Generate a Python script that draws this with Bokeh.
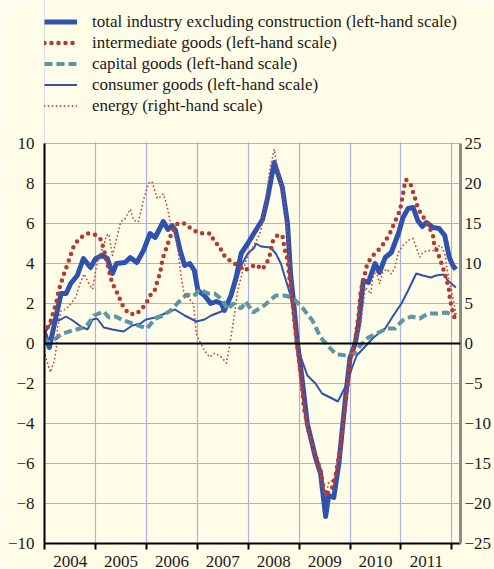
from bokeh.plotting import figure
from bokeh.models import (Range1d, LinearAxis, FixedTicker, CustomJSTickFormatter, Span,
                          Legend, LegendItem, BoxAnnotation)
from bokeh.embed import file_html
from bokeh.resources import INLINE

# ---------------- data (decimal years, percentage changes) ----------------
total_x = [2004.00, 2004.09, 2004.32, 2004.42, 2004.51, 2004.64, 2004.76, 2004.90, 2005.00, 2005.13,
           2005.23, 2005.33, 2005.41, 2005.58, 2005.68, 2005.81, 2005.94, 2006.07, 2006.17, 2006.33,
           2006.42, 2006.50, 2006.57, 2006.66, 2006.75, 2006.85, 2006.94, 2007.01, 2007.14, 2007.26,
           2007.37, 2007.47, 2007.53, 2007.66, 2007.76, 2007.86, 2007.99, 2008.12, 2008.28, 2008.38,
           2008.51, 2008.67, 2008.77, 2008.83, 2008.90, 2008.96, 2009.03, 2009.16, 2009.32, 2009.42,
           2009.52, 2009.58, 2009.68, 2009.78, 2009.91, 2010.00, 2010.10, 2010.17, 2010.26, 2010.36,
           2010.49, 2010.58, 2010.69, 2010.81, 2010.95, 2011.04, 2011.14, 2011.24, 2011.33, 2011.42,
           2011.50, 2011.63, 2011.75, 2011.86, 2011.95, 2012.02, 2012.08]
total_y = [0.5, -0.2, 2.5, 2.5, 3.0, 3.4, 4.25, 3.8, 4.25, 4.4,
           4.25, 3.5, 4.0, 4.05, 4.3, 4.05, 4.65, 5.5, 5.3, 6.1,
           5.7, 5.9, 5.65, 4.65, 3.9, 4.0, 3.65, 2.65, 2.4, 2.0,
           2.1, 2.0, 1.65, 2.4, 3.3, 4.5, 5.0, 5.55, 6.2, 7.3,
           9.05, 7.8, 6.0, 3.5, 1.8, 0.15, -1.2, -4.0, -5.7, -6.5,
           -8.65, -7.6, -7.7, -6.0, -2.7, -0.7, 0.0, 1.0, 3.15, 3.05,
           4.0, 3.55, 4.3, 4.55, 5.5, 6.3, 6.75, 6.8, 6.15, 5.85,
           6.05, 5.8, 5.75, 5.4, 4.3, 3.9, 3.7]

inter_x = [2004.00, 2004.12, 2004.22, 2004.28, 2004.38, 2004.48, 2004.58, 2004.71, 2004.84, 2004.98,
           2005.10, 2005.15, 2005.19, 2005.26, 2005.29, 2005.35, 2005.42, 2005.54, 2005.65, 2005.78,
           2005.88, 2005.99, 2006.07, 2006.16, 2006.20, 2006.25, 2006.29, 2006.31, 2006.36, 2006.42,
           2006.46, 2006.53, 2006.61, 2006.75, 2006.87, 2007.00, 2007.13, 2007.26, 2007.33, 2007.44,
           2007.49, 2007.61, 2007.72, 2007.83, 2007.92, 2008.04, 2008.15, 2008.27, 2008.36, 2008.42,
           2008.49, 2008.57, 2008.67, 2008.72, 2008.77, 2008.80, 2008.83, 2008.88, 2008.93, 2009.00,
           2009.05, 2009.09, 2009.18, 2009.29, 2009.42, 2009.48, 2009.53, 2009.65, 2009.72, 2009.81,
           2009.87, 2009.94, 2010.00, 2010.10, 2010.17, 2010.21, 2010.26, 2010.33, 2010.41, 2010.51,
           2010.62, 2010.71, 2010.78, 2010.85, 2010.91, 2010.98, 2011.01, 2011.04, 2011.06, 2011.10,
           2011.19, 2011.24, 2011.29, 2011.33, 2011.40, 2011.49, 2011.56, 2011.63, 2011.65, 2011.72,
           2011.77, 2011.81, 2011.86, 2011.90, 2011.94, 2011.96, 2011.98, 2012.02, 2012.07]
inter_y = [0.5, 1.15, 2.0, 2.7, 3.5, 4.2, 4.95, 5.3, 5.5, 5.45,
           5.2, 4.8, 4.4, 3.7, 3.3, 2.9, 2.55, 1.85, 1.5, 1.45,
           1.65, 2.0, 2.4, 2.65, 3.0, 3.4, 3.8, 4.2, 4.55, 5.0,
           5.3, 5.7, 6.0, 6.0, 5.75, 5.55, 5.5, 5.5, 5.1, 4.85,
           4.5, 4.2, 4.0, 3.85, 3.65, 3.8, 3.95, 3.7, 4.0, 4.4,
           5.2, 5.4, 5.4, 4.65, 4.2, 3.5, 2.8, 1.8, 0.5, -0.85,
           -2.0, -3.2, -4.35, -5.35, -6.35, -7.2, -7.6, -7.2, -6.5, -5.2,
           -3.85, -2.35, -0.85, 0.15, 1.5, 2.65, 3.15, 3.9, 4.3, 4.55,
           4.85, 5.2, 5.5, 5.9, 6.25, 6.65, 7.05, 7.45, 7.8, 8.2,
           7.95, 7.55, 7.15, 6.8, 6.45, 6.15, 5.8, 5.4, 5.0, 4.55,
           4.2, 3.9, 3.5, 3.15, 2.75, 2.3, 2.0, 1.55, 1.15]

capital_x = [2004.00, 2004.06, 2004.19, 2004.35, 2004.55, 2004.77, 2004.84, 2004.97, 2005.06, 2005.16,
             2005.26, 2005.39, 2005.55, 2005.72, 2005.84, 2006.01, 2006.17, 2006.33, 2006.50, 2006.62,
             2006.79, 2006.92, 2007.05, 2007.21, 2007.34, 2007.48, 2007.60, 2007.70, 2007.86, 2007.95,
             2008.09, 2008.31, 2008.54, 2008.70, 2008.87, 2009.06, 2009.26, 2009.42, 2009.65, 2009.74,
             2009.94, 2010.09, 2010.20, 2010.36, 2010.56, 2010.72, 2010.88, 2011.03, 2011.20, 2011.37,
             2011.53, 2011.72, 2011.89, 2012.08]
capital_y = [0.25, 0.05, 0.2, 0.5, 0.65, 0.8, 0.95, 1.4, 1.5, 1.6,
             1.3, 1.35, 1.15, 1.0, 0.9, 0.75, 1.25, 1.4, 1.7, 2.05,
             2.45, 2.35, 2.7, 2.5, 2.5, 2.2, 1.7, 2.0, 1.75, 2.1,
             1.55, 1.9, 2.4, 2.4, 2.3, 1.8, 1.15, 0.3, -0.35, -0.55,
             -0.6, -0.5, -0.1, 0.3, 0.55, 0.75, 0.75, 1.15, 1.35, 1.25,
             1.5, 1.5, 1.55, 1.4]

consumer_x = [2004.00, 2004.09, 2004.19, 2004.28, 2004.42, 2004.55, 2004.71, 2004.84, 2004.94, 2005.03,
              2005.16, 2005.33, 2005.55, 2005.72, 2005.88, 2005.99, 2006.17, 2006.36, 2006.56, 2006.75,
              2006.98, 2007.14, 2007.27, 2007.47, 2007.60, 2007.73, 2007.86, 2007.99, 2008.12, 2008.15,
              2008.25, 2008.44, 2008.54, 2008.64, 2008.74, 2008.83, 2008.93, 2008.98, 2009.16, 2009.32,
              2009.45, 2009.61, 2009.76, 2009.94, 2010.04, 2010.13, 2010.26, 2010.46, 2010.69, 2010.85,
              2011.01, 2011.14, 2011.30, 2011.43, 2011.59, 2011.69, 2011.84, 2011.92, 2012.08]
consumer_y = [0.5, 0.9, 1.25, 1.15, 1.35, 1.15, 0.85, 0.7, 1.2, 1.25,
              0.8, 0.7, 0.6, 0.9, 1.0, 1.2, 1.3, 1.5, 1.7, 1.4,
              1.1, 1.2, 1.4, 1.6, 1.9, 2.8, 3.9, 4.5, 4.8, 5.0,
              4.85, 4.8, 4.5, 4.0, 3.15, 2.4, 0.8, -0.3, -1.6, -2.0,
              -2.5, -2.7, -2.9, -2.0, -1.2, -0.6, -0.25, 0.3, 0.75, 1.4,
              2.0, 2.65, 3.5, 3.4, 3.3, 3.4, 3.45, 3.15, 2.8]

energy_x = [2004.01, 2004.11, 2004.19, 2004.24, 2004.25, 2004.32, 2004.42, 2004.51, 2004.61, 2004.69,
            2004.77, 2004.87, 2004.94, 2005.00, 2005.06, 2005.13, 2005.18, 2005.21, 2005.26, 2005.33,
            2005.42, 2005.49, 2005.58, 2005.68, 2005.75, 2005.84, 2005.94, 2006.01, 2006.06, 2006.11,
            2006.20, 2006.23, 2006.33, 2006.40, 2006.46, 2006.56, 2006.62, 2006.68, 2006.74, 2006.82,
            2006.92, 2006.95, 2006.98, 2007.05, 2007.14, 2007.24, 2007.34, 2007.47, 2007.57, 2007.65,
            2007.73, 2007.79, 2007.89, 2007.99, 2008.09, 2008.25, 2008.35, 2008.42, 2008.51, 2008.57,
            2008.67, 2008.74, 2008.79, 2008.83, 2008.90, 2008.93, 2009.00, 2009.09, 2009.29, 2009.42,
            2009.52, 2009.58, 2009.68, 2009.72, 2009.81, 2009.87, 2009.94, 2010.00, 2010.07, 2010.20,
            2010.30, 2010.36, 2010.41, 2010.44, 2010.51, 2010.58, 2010.64, 2010.72, 2010.81, 2010.88,
            2010.95, 2011.04, 2011.14, 2011.24, 2011.30, 2011.37, 2011.43, 2011.53, 2011.63, 2011.69,
            2011.79, 2011.86, 2011.90, 2011.95, 2012.02, 2012.08]
energy_y = [-1.5, -3.6, -2.1, 0.0, 2.0, 4.1, 4.3, 4.95, 5.8, 7.45,
            8.7, 7.45, 6.8, 9.1, 10.8, 11.8, 12.65, 13.5, 13.7, 11.0,
            13.3, 15.2, 15.6, 16.8, 15.4, 15.2, 17.9, 19.5, 20.2, 20.2,
            18.3, 18.1, 18.7, 17.25, 15.4, 14.1, 11.6, 8.3, 6.2, 5.8,
            4.95, 3.3, 1.2, 0.2, -0.9, -1.7, -1.2, -1.7, -2.45, 0.4,
            3.7, 6.6, 9.1, 11.0, 12.0, 14.1, 18.3, 21.6, 24.3, 22.0,
            19.5, 16.2, 12.0, 7.9, 3.7, 0.4, -3.8, -8.0, -13.6, -16.3,
            -19.2, -17.3, -17.1, -15.9, -13.0, -9.6, -5.9, -2.1, -0.25, 2.0,
            7.0, 6.6, 6.2, 8.1, 9.1, 7.45, 8.9, 9.3, 8.7, 9.5,
            11.4, 12.25, 12.9, 13.1, 12.0, 10.8, 11.4, 11.6, 11.6, 12.1,
            12.25, 11.2, 9.5, 7.9, 5.8, 3.7]

years = [2004, 2005, 2006, 2007, 2008, 2009, 2010, 2011, 2012]
left_ticks = [-10, -8, -6, -4, -2, 0, 2, 4, 6, 8, 10]
right_ticks = [-25, -20, -15, -10, -5, 0, 5, 10, 15, 20, 25]

labels = ["total industry excluding construction (left-hand scale)",
          "intermediate goods (left-hand scale)",
          "capital goods (left-hand scale)",
          "consumer goods (left-hand scale)",
          "energy (right-hand scale)"]

# ---------------- styles / layout ----------------
BG = "#FFFDE8"
GRID = "#A9B1EA"
BLUE = "#2F51AF"
RED = "#B33A2F"
RED2 = "#C0463A"
TEAL = "#5E95A3"
FONT = "Liberation Serif"

styles = [
    dict(line_color=BLUE, line_width=5, line_join="round"),
    dict(line_color=RED, line_width=4.5, line_dash="0 7", line_cap="round"),
    dict(line_color=TEAL, line_width=4, line_dash="8 4"),
    dict(line_color=BLUE, line_width=2),
    dict(line_color=RED2, line_width=1.8, line_dash="0 4", line_cap="round"),
]

Y_LO, Y_HI = -10, 10          # left scale shown
Y_TOP = 17.15                 # extra headroom above the plot area holds the legend
R_FACTOR = 2.5                # right scale = left scale * 2.5

p = figure(width=494, height=569, x_range=Range1d(2003.995, 2012.17), y_range=Range1d(Y_LO, Y_TOP),
           output_backend="svg", toolbar_location=None,
           min_border_left=44, min_border_right=0, min_border_top=0, min_border_bottom=0)
p.extra_y_ranges = {"right": Range1d(Y_LO * R_FACTOR, Y_TOP * R_FACTOR)}
p.background_fill_color = BG
p.border_fill_color = BG
p.outline_line_color = None

# x axis: year labels between year boundaries
mids = [y + 0.5 for y in years[:-1]]
p.xaxis.ticker = FixedTicker(ticks=mids, minor_ticks=years)
p.xaxis.formatter = CustomJSTickFormatter(code="return String(Math.floor(tick));")
p.xaxis.major_tick_line_color = None
p.xaxis.major_tick_out = 0
p.xaxis.major_tick_in = 0
p.xaxis.minor_tick_line_color = "black"
p.xaxis.minor_tick_line_width = 2
p.xaxis.minor_tick_out = 6
p.xaxis.minor_tick_in = 0
p.xaxis.axis_line_width = 2
p.xaxis.axis_line_color = "black"
p.xaxis.major_label_standoff = 6

p.yaxis.ticker = FixedTicker(ticks=left_ticks)
p.yaxis.bounds = (Y_LO, Y_HI)
p.yaxis.major_tick_out = 0
p.yaxis.major_tick_in = 0
p.yaxis.minor_tick_out = 0
p.yaxis.minor_tick_line_color = None
p.yaxis.axis_line_width = 2
p.yaxis.axis_line_color = "black"
p.yaxis.major_label_standoff = 10

ra = LinearAxis(y_range_name="right", ticker=FixedTicker(ticks=right_ticks),
                bounds=(Y_LO * R_FACTOR, Y_HI * R_FACTOR))
ra.major_tick_out = 0
ra.major_tick_in = 0
ra.minor_tick_out = 0
ra.minor_tick_in = 0
ra.minor_tick_line_color = None
ra.axis_line_color = "#8C8C8C"
ra.axis_line_width = 3
ra.major_label_standoff = 4
p.add_layout(ra, "right")

for ax in [p.xaxis[0], p.yaxis[0], ra]:
    ax.major_label_text_font = FONT
    ax.major_label_text_font_size = "17px"
    ax.major_label_text_color = "#1A1A1A"

p.xgrid.ticker = FixedTicker(ticks=years)
p.ygrid.ticker = FixedTicker(ticks=left_ticks)
p.grid.grid_line_color = GRID
p.grid.grid_line_width = 1.2

# hide the vertical grid above the plot area (legend zone)
p.add_layout(BoxAnnotation(bottom=Y_HI + 0.06, fill_color=BG, fill_alpha=1.0,
                           line_color=None, level="underlay"))

p.add_layout(Span(location=0, dimension="width", line_color="black", line_width=2))

r_cons = p.line(consumer_x, consumer_y, **styles[3])
r_tot = p.line(total_x, total_y, **styles[0])
r_cap = p.line(capital_x, capital_y, **styles[2])
r_int = p.line(inter_x, inter_y, **styles[1])
r_en = p.line(energy_x, energy_y, y_range_name="right", **styles[4])

items = [LegendItem(label=lab, renderers=[r])
         for lab, r in zip(labels, [r_tot, r_int, r_cap, r_cons, r_en])]
leg = Legend(items=items, location=(0, 427), margin=0, padding=0, spacing=0,
             label_height=21, glyph_height=21, glyph_width=33, label_standoff=15,
             label_text_font=FONT, label_text_font_size="17px", label_text_color="#1A1A1A",
             background_fill_alpha=0, border_line_color=None)
p.add_layout(leg)

html = file_html(p, INLINE)
html = html.replace("<body>", '<body style="background:%s">' % BG, 1)
open("out.html", "w").write(html)
